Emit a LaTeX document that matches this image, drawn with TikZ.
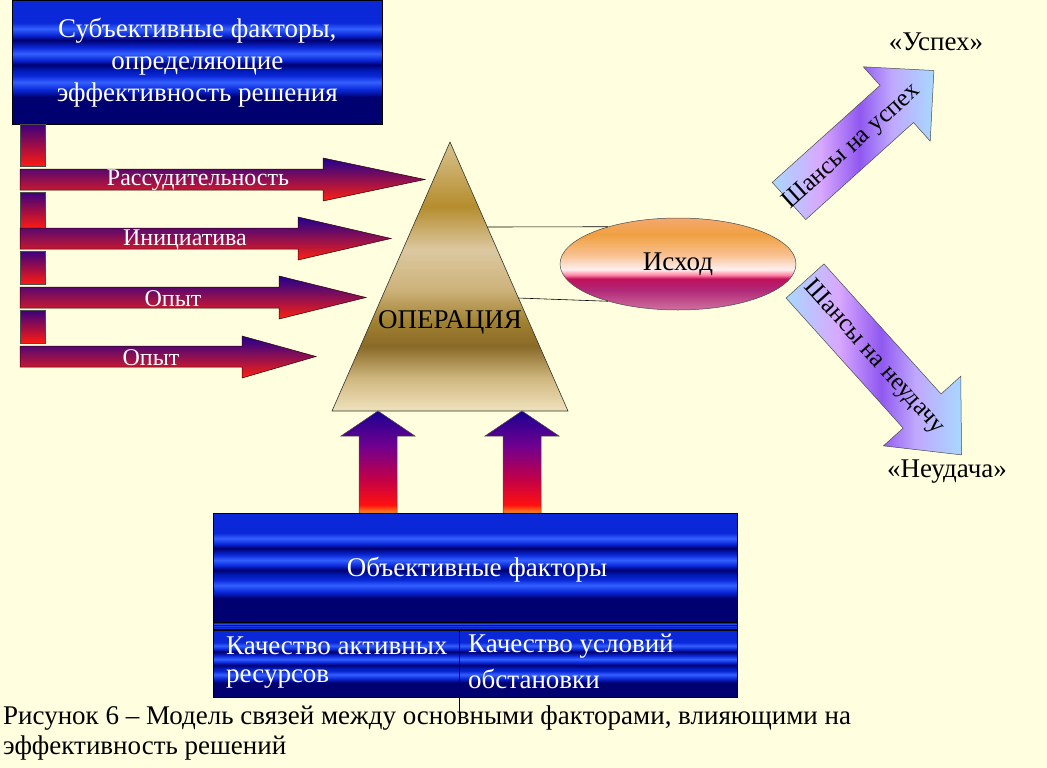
\documentclass[tikz,border=0pt]{standalone}
\usepackage{fontspec}
\setmainfont{Liberation Serif}
\newfontfamily\tnr{Liberation Serif}
\usetikzlibrary{shapes.geometric,calc}
\definecolor{bgc}{HTML}{FFFFE0}
\definecolor{bA}{HTML}{000070}
\definecolor{bB}{HTML}{0A28D8}
\definecolor{bC}{HTML}{3460FF}
\definecolor{bD}{HTML}{0018B0}
\definecolor{pyA}{HTML}{EFE2BD}
\definecolor{pyB}{HTML}{D0B880}
\definecolor{pyC}{HTML}{8A6A28}
\definecolor{pyD}{HTML}{A08030}
\definecolor{pyE}{HTML}{CDB27A}
\definecolor{pyF}{HTML}{DCC8A0}
\definecolor{pyG}{HTML}{B58D2E}
\definecolor{pyH}{HTML}{D8C28E}
\definecolor{isA}{HTML}{D070A0}
\definecolor{isB}{HTML}{B02878}
\definecolor{isC}{HTML}{C0105A}
\definecolor{isD}{HTML}{FF80A0}
\definecolor{isE}{HTML}{FFF0F0}
\definecolor{isF}{HTML}{F8C090}
\definecolor{isG}{HTML}{F0A040}
\definecolor{isH}{HTML}{F4A870}
\definecolor{upA}{HTML}{FF9020}
\definecolor{upB}{HTML}{FF1010}
\definecolor{upC}{HTML}{C0004A}
\definecolor{upD}{HTML}{700090}
\definecolor{upE}{HTML}{1A0090}
\definecolor{chA}{HTML}{A8D8FF}
\definecolor{chB}{HTML}{D8A8FF}
\definecolor{chC}{HTML}{9058F0}
\definecolor{chD}{HTML}{C0A8FF}
\definecolor{arrTop}{HTML}{200090}
\definecolor{arrMid}{HTML}{9A0068}
\definecolor{arrBot}{HTML}{FF2010}
\definecolor{cTop}{HTML}{3A0080}
\definecolor{cBot}{HTML}{FF1A10}
\pgfdeclarehorizontalshading{bluestreak}{100bp}{color(0bp)=(bA); color(36bp)=(bA); color(39bp)=(bB); color(42bp)=(bC); color(44.5bp)=(bB); color(47bp)=(bD); color(49bp)=(bA); color(51bp)=(bB); color(53.5bp)=(bC); color(56bp)=(bB); color(59bp)=(bA); color(61bp)=(bB); color(63.5bp)=(bC); color(66bp)=(bB); color(100bp)=(bB)}
\pgfdeclareverticalshading{pyr}{100bp}{color(0bp)=(pyA); color(25bp)=(pyA); color(31bp)=(pyB); color(37bp)=(pyC); color(41.5bp)=(pyD); color(47.5bp)=(pyE); color(55bp)=(pyF); color(63bp)=(pyG); color(75bp)=(pyH); color(100bp)=(pyH)}
\pgfdeclareverticalshading{ishodsh}{100bp}{color(0bp)=(isA); color(25bp)=(isA); color(36bp)=(isB); color(42bp)=(isC); color(44bp)=(isD); color(47bp)=(isE); color(55bp)=(isF); color(66bp)=(isG); color(75bp)=(isH); color(100bp)=(isH)}
\pgfdeclareverticalshading{upsh}{100bp}{color(0bp)=(upA); color(25bp)=(upA); color(29bp)=(upB); color(42bp)=(upC); color(58bp)=(upD); color(75bp)=(upE); color(100bp)=(upE)}
\pgfdeclarehorizontalshading{chancesh}{100bp}{color(0bp)=(chA); color(25bp)=(chA); color(40bp)=(chB); color(52bp)=(chC); color(62bp)=(chD); color(75bp)=(chA); color(100bp)=(chA)}
\begin{document}
\begin{tikzpicture}[x=1pt,y=-1pt,
  font=\tnr\fontsize{27}{32}\selectfont,
  every node/.style={inner sep=0pt},
  bluebox/.style={draw=black, line width=0.6pt, shade, shading=bluestreak, shading angle=90},
  fact/.style={draw=black!80!red, line width=0.5pt, top color=arrTop, middle color=arrMid, bottom color=arrBot},
  conn/.style={draw=black!70, line width=0.5pt, top color=cTop, bottom color=cBot},
  upar/.style={draw=black!70, line width=0.5pt, shade, shading=upsh},
  chancearrow/.style={draw=black!70, line width=0.5pt, shade, shading=chancesh, shading angle=0},
  wtext/.style={text=white},
  smalltext/.style={font=\tnr\fontsize{24}{28}\selectfont},
  rottext/.style={font=\tnr\fontsize{25}{28}\selectfont}]
\fill[bgc] (0,0) rectangle (1047,768);
\useasboundingbox (0,0) rectangle (1047,768);

% top-left box
\node[bluebox, minimum width=370pt, minimum height=124pt, anchor=north west, align=center, wtext] (subj) at (12,0)
  {Субъективные факторы,\\ определяющие\\ эффективность решения};

% small vertical connectors
\foreach \a/\b [count=\k] in {124/166,192/228,251/284,310/343}
  \path[conn] (20,\a) rectangle (45,\b) coordinate (c\k);

% horizontal factor arrows
\foreach \n/\sa/\sb/\hx/\ha/\hb/\tx/\lx/\t in {
  1/169/190/323/158/201/425/198/Рассудительность,
  2/228/249/298/217/260/391/185/Инициатива,
  3/287/308/279/276/319/366/173/Опыт,
  4/346/367/242/336/378/316/151/Опыт}{
  \path[fact] (20,\sa) -- (\hx,\sa) -- (\hx,\ha) -- (\tx,{(\sa+\sb)/2}) -- (\hx,\hb) -- (\hx,\sb) -- (20,\sb) -- cycle;
  \node[wtext, smalltext] (f\n) at (\lx,{(\sa+\sb)/2+1}) {\t};
}

% pyramid
\coordinate (apex) at (450,142);
\coordinate (bl) at (332,411);
\coordinate (br) at (568,411);
\path[draw=black!80, line width=0.6pt, shade, shading=pyr] (apex) -- (br) -- (bl) -- cycle;
\node (oper) at (450,322) {ОПЕРАЦИЯ};

% outcome ellipse
\node[ellipse, draw=black!70, line width=0.5pt, shade, shading=ishodsh, minimum width=236pt, minimum height=92pt] (ishod) at (678,264) {Исход};
\coordinate (e1) at ($(apex)!0.316!(br)$);
\coordinate (e2) at ($(apex)!0.58!(br)$);
\draw[line width=0.6pt] (e1) -- (ishod.152);
\draw[line width=0.6pt] (e2) -- (ishod.208);

% up arrows
\foreach \cx in {378,522}
  \path[upar] (\cx-19,513) -- (\cx-19,436) -- (\cx-37,436) -- (\cx,411) -- (\cx+37,436) -- (\cx+19,436) -- (\cx+19,513) -- cycle;

% bottom box: a header cell, a thin strip and two cells
\node[bluebox, minimum width=524pt, minimum height=109pt, anchor=north west] (obj) at (213,513) {};
\node[bluebox, minimum width=524pt, minimum height=8pt, anchor=north west] (strip) at (213,622) {};
\node[bluebox, minimum width=246pt, minimum height=67pt, anchor=north west] (cellA) at (213,630) {};
\node[bluebox, minimum width=278pt, minimum height=67pt, anchor=north west] (cellB) at (459,630) {};
\coordinate (vbot) at (459,712);
\draw[line width=0.6pt] (cellB.south west) -- (vbot);
\node[wtext] (objt) at (477,570) {Объективные факторы};
\node[wtext, anchor=west] (q1a) at (226,646) {Качество активных};
\node[wtext, anchor=west] (q1b) at (226,679) {ресурсов};
\node[wtext, anchor=west] (q2a) at (468,646) {Качество условий};
\node[wtext, anchor=west] (q2b) at (468,679) {обстановки};

% chance arrows
\begin{scope}[shift={(789,201)}, rotate=42]
  \path[chancearrow] (0,25) -- (145,25) -- (145,50) -- (195,0) -- (145,-50) -- (145,-25) -- (0,-25) -- cycle;
  \node[rotate=42, rottext] (succ) at (83,2) {Шансы на успех};
\end{scope}
\begin{scope}[shift={(805,281)}, rotate=-48]
  \path[chancearrow] (0,25.5) -- (175,25.5) -- (175,52) -- (234,0) -- (175,-52) -- (175,-25.5) -- (0,-25.5) -- cycle;
  \node[rotate=-48, rottext] (fail) at (103,0) {Шансы на неудачу};
\end{scope}
\node (uspeh) at (936,42) {«Успех»};
\node (neud) at (947,472) {«Неудача»};

% caption
\node[anchor=west] (cap1) at (3,718) {Рисунок 6 – Модель связей между основными факторами, влияющими на};
\node[anchor=west] (cap2) at (3,748) {эффективность решений};
\end{tikzpicture}
\end{document}
